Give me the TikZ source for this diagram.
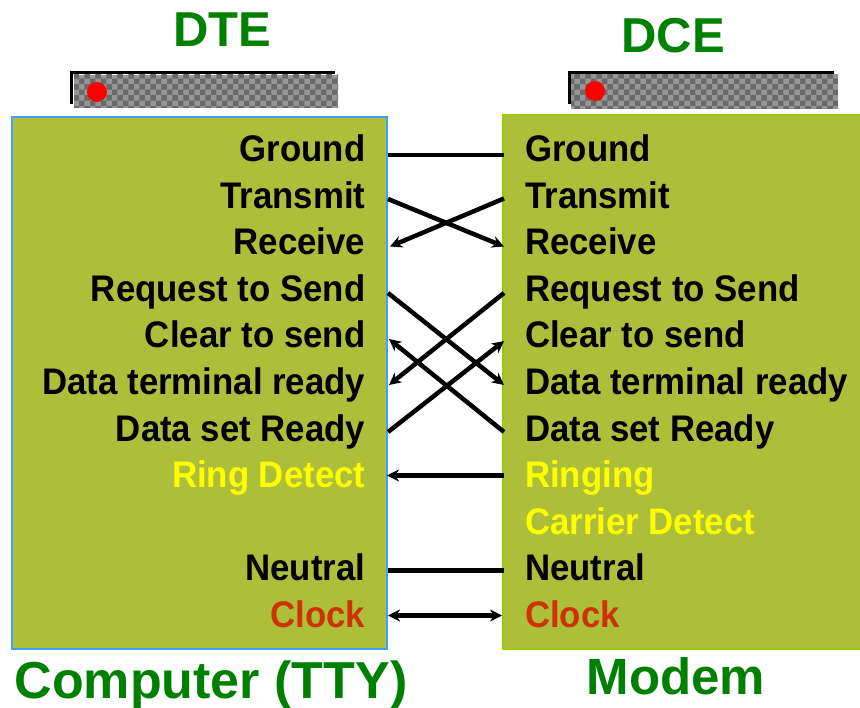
\documentclass[tikz,border=0pt]{standalone}
\usepackage{fontspec}
\setmainfont{Liberation Sans}
\newfontfamily\lblfont{Liberation Sans}[FakeStretch=0.94]
\usetikzlibrary{arrows.meta,patterns}

\definecolor{boxfill}{RGB}{173,190,58}
\definecolor{dteedge}{RGB}{64,160,255}
\definecolor{dceedge}{RGB}{153,204,0}
\definecolor{titlegreen}{RGB}{0,128,0}
\definecolor{sigyellow}{RGB}{255,255,0}
\definecolor{clockred}{RGB}{204,51,0}
\definecolor{barlight}{RGB}{150,150,150}
\definecolor{bardark}{RGB}{105,105,105}

\begin{document}
\begin{tikzpicture}[x=1pt,y=-1pt,
  lbl/.style={font=\lblfont\bfseries\fontsize{37}{40}\selectfont, inner sep=0pt},
  lft/.style={lbl, anchor=base east},
  rgt/.style={lbl, anchor=base west},
  title/.style={font=\bfseries\fontsize{49}{52}\selectfont, text=titlegreen, inner sep=0pt, anchor=base},
  wire/.style={line width=4.5pt},
  tip/.style={-{Stealth[length=12pt,width=12pt]}},
  bothtips/.style={{Stealth[length=12pt,width=12pt]}-{Stealth[length=12pt,width=12pt]}},
  barbody/.style={fill=barlight, postaction={pattern=checkerboard, pattern color=bardark}},
  led/.style={circle, fill=red, minimum size=20pt, inner sep=0pt}
]
\useasboundingbox (0,0) rectangle (860,708);

% titles
\node[title] (dte) at (222,46.7) {DTE};
\node[title] (dce) at (673,52.5) {DCE};
\node[title, font=\bfseries\fontsize{52}{55}\selectfont] (computer) at (211,698.5) {Computer (TTY)};
\node[title, font=\bfseries\fontsize{51}{54}\selectfont] (modem) at (676,694.3) {Modem};

% front panels above the boxes
\path[barbody] (74,75) rectangle (338,108);
\draw[line width=3pt] (71.5,104) -- (71.5,73) -- (335,73);
\node[led] (ledL) at (97,92) {};
\path[barbody] (571,74) rectangle (838,109);
\draw[line width=3pt] (569.5,104) -- (569.5,72.5) -- (834,72.5);
\node[led] (ledR) at (595,91) {};

% the two equipment boxes
\fill[boxfill] (12,117) rectangle (387,649);
\draw[dteedge, line width=2.5pt] (12,117) rectangle (387,649);
\fill[boxfill] (503,115) rectangle (860,649);
\draw[dceedge, line width=2pt] (860,115) -- (503,115) -- (503,649) -- (860,649);

% DTE signal names
\node[lft] (gndL) at (365.5,161.5) {Ground};
\node[lft] (txL)  at (365.5,208.1) {Transmit};
\node[lft] (rxL)  at (365.5,254.7) {Receive};
\node[lft] (rtsL) at (365.5,301.3) {Request to Send};
\node[lft] (ctsL) at (365.5,347.9) {Clear to send};
\node[lft] (dtrL) at (365.5,394.5) {Data terminal ready};
\node[lft] (dsrL) at (365.5,441.1) {Data set Ready};
\node[lft, text=sigyellow] (riL) at (365.5,487.7) {Ring Detect};
\node[lft] (neuL) at (365.5,580.9) {Neutral};
\node[lft, text=clockred] (clkL) at (365.5,627.5) {Clock};

% DCE signal names
\node[rgt] (gndR) at (525,161.5) {Ground};
\node[rgt] (txR)  at (525,208.1) {Transmit};
\node[rgt] (rxR)  at (525,254.7) {Receive};
\node[rgt] (rtsR) at (525,301.3) {Request to Send};
\node[rgt] (ctsR) at (525,347.9) {Clear to send};
\node[rgt] (dtrR) at (525,394.5) {Data terminal ready};
\node[rgt] (dsrR) at (525,441.1) {Data set Ready};
\node[rgt, text=sigyellow] (riR) at (525,487.7) {Ringing};
\node[rgt, text=sigyellow] (cdR) at (525,534.3) {Carrier Detect};
\node[rgt] (neuR) at (525,580.9) {Neutral};
\node[rgt, text=clockred] (clkR) at (525,627.5) {Clock};

% pin positions on the box edges
\coordinate (pgndL) at (388,155);   \coordinate (pgndR) at (504,155);
\coordinate (ptxL)  at (388,199);   \coordinate (ptxR)  at (504,198.5);
\coordinate (prxL)  at (390,246.5); \coordinate (prxR)  at (504,246.5);
\coordinate (prtsL) at (388,293);   \coordinate (prtsR) at (504,293);
\coordinate (pctsL) at (389,339);   \coordinate (pctsR) at (504,341);
\coordinate (pdtrL) at (389,385);   \coordinate (pdtrR) at (504,385);
\coordinate (pdsrL) at (388,432);   \coordinate (pdsrR) at (504,432);
\coordinate (priL)  at (387,475.5); \coordinate (priR)  at (504,475.5);
\coordinate (pneuL) at (388,570.5); \coordinate (pneuR) at (504,570.5);
\coordinate (pclkL) at (388,615.5); \coordinate (pclkR) at (502,615.5);

% wiring
\draw[wire] (pgndL) -- (pgndR);
\draw[wire, tip] (ptxL) -- (prxR);
\draw[wire, tip] (ptxR) -- (prxL);
\draw[wire, tip] (prtsL) -- (pdtrR);
\draw[wire, tip] (prtsR) -- (pdtrL);
\draw[wire, tip] (pdsrL) -- (pctsR);
\draw[wire, tip] (pdsrR) -- (pctsL);
\draw[wire, tip] (priR) -- (priL);
\draw[wire] (pneuL) -- (pneuR);
\draw[wire, bothtips] (pclkL) -- (pclkR);
\end{tikzpicture}
\end{document}
